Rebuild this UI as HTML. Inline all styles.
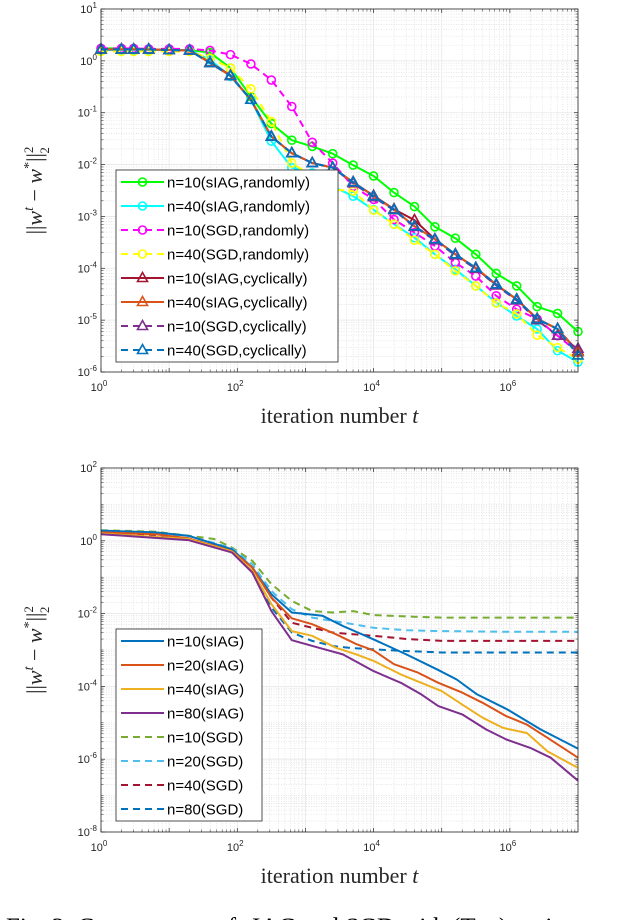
<!DOCTYPE html>
<html><head><meta charset="utf-8"><style>
html,body{margin:0;padding:0;background:#fff;width:618px;height:920px;overflow:hidden}
svg{display:block}
</style></head><body>
<svg id="fig" width="618" height="920" xmlns="http://www.w3.org/2000/svg">
<text x="6" y="935" font-family="Liberation Serif, serif" font-size="25" fill="#000">Fig. 2: Convergence of sIAG and SGD with (Top) various</text>
</svg>
<script>
// ---------- TOP CHART DATA (log10 t, log10 error) ----------
const topLogT = [0,0.3,0.48,0.7,1.0,1.3,1.6,1.9,2.2,2.5,2.8,3.1,3.4,3.7,4.0,4.3,4.6,4.9,5.2,5.5,5.8,6.1,6.4,6.7,7.0];
const topNames = ["n=10(sIAG,randomly)","n=40(sIAG,randomly)","n=10(SGD,randomly)","n=40(SGD,randomly)","n=10(sIAG,cyclically)","n=40(sIAG,cyclically)","n=10(SGD,cyclically)","n=40(SGD,cyclically)"];
const topS1 = [0.24,0.24,0.23,0.22,0.21,0.21,0.16,-0.14,-0.69,-1.21,-1.53,-1.65,-1.79,-2.01,-2.22,-2.54,-2.81,-3.2,-3.42,-3.73,-4.1,-4.34,-4.74,-4.87,-5.22];
const topS2 = [0.21,0.21,0.21,0.21,0.21,0.21,0.02,-0.3,-0.75,-1.55,-2.06,-2.16,-2.42,-2.61,-2.87,-3.15,-3.41,-3.73,-4.02,-4.34,-4.66,-4.92,-5.17,-5.59,-5.81];
const topS3 = [0.24,0.24,0.24,0.23,0.23,0.23,0.2,0.12,-0.06,-0.37,-0.88,-1.57,-1.97,-2.42,-2.67,-3.06,-3.31,-3.57,-3.89,-4.15,-4.53,-4.79,-4.98,-5.3,-5.62];
const topS4 = [0.18,0.18,0.18,0.18,0.18,0.18,0.05,-0.14,-0.54,-1.17,-1.97,-2.22,-2.48,-2.51,-2.88,-3.15,-3.46,-3.73,-4.05,-4.34,-4.67,-4.88,-5.29,-5.53,-5.75];
const topS5 = [0.22,0.22,0.22,0.22,0.21,0.2,-0.03,-0.28,-0.75,-1.46,-1.78,-1.97,-2.06,-2.34,-2.6,-2.86,-3.07,-3.44,-3.73,-4.0,-4.32,-4.6,-4.97,-5.17,-5.6];
const topS6 = [0.22,0.22,0.22,0.22,0.21,0.2,-0.04,-0.29,-0.75,-1.46,-1.78,-1.97,-2.06,-2.34,-2.61,-2.87,-3.19,-3.44,-3.73,-3.99,-4.31,-4.6,-4.98,-5.17,-5.62];
const topS7 = [0.22,0.22,0.22,0.22,0.21,0.2,-0.04,-0.29,-0.75,-1.46,-1.78,-1.97,-2.06,-2.36,-2.63,-2.88,-3.2,-3.46,-3.75,-4.01,-4.33,-4.62,-5.0,-5.3,-5.55];
const topS8 = [0.22,0.22,0.22,0.22,0.21,0.2,-0.04,-0.29,-0.75,-1.46,-1.78,-1.97,-2.06,-2.34,-2.61,-2.87,-3.19,-3.44,-3.73,-3.99,-4.31,-4.6,-4.98,-5.17,-5.68];
const topColors = ["#00ff00","#00ffff","#ff00ff","#ffff00","#a2142f","#d95319","#7e2f8e","#0072bd"];
const topDash = [false,false,true,true,false,false,true,true];
const topMarker = ["o","o","o","o","^","^","^","^"];

// ---------- BOTTOM CHART DATA ----------
const botNames = ["n=10(sIAG)","n=20(sIAG)","n=40(sIAG)","n=80(sIAG)","n=10(SGD)","n=20(SGD)","n=40(SGD)","n=80(SGD)"];
const b1x = [0,0.8,1.28,1.92,2.22,2.5,2.8,3.25,3.55,4.0,4.48,4.93,5.22,5.52,5.96,6.45,7.0];
const b1y = [0.28,0.23,0.14,-0.23,-0.73,-1.47,-1.97,-2.06,-2.34,-2.71,-3.12,-3.53,-3.81,-4.22,-4.63,-5.18,-5.71];
const b2x = [0,0.8,1.28,1.92,2.22,2.5,2.8,3.1,3.45,3.75,4.0,4.3,4.65,4.95,5.3,5.6,5.95,6.25,6.55,7.0];
const b2y = [0.23,0.18,0.07,-0.28,-0.73,-1.56,-2.13,-2.29,-2.57,-2.84,-3.01,-3.39,-3.62,-3.9,-4.17,-4.45,-4.82,-5.05,-5.41,-5.96];
const b3x = [0,1.28,1.92,2.22,2.5,2.8,3.1,3.45,3.75,4.0,4.4,4.7,5.0,5.3,5.6,5.9,6.25,6.55,7.0];
const b3y = [0.2,0.05,-0.29,-0.83,-1.74,-2.48,-2.61,-2.94,-3.12,-3.3,-3.67,-3.9,-4.13,-4.5,-4.86,-5.14,-5.28,-5.78,-6.24];
const b4x = [0,1.28,1.92,2.22,2.5,2.8,3.2,3.55,4.0,4.4,4.7,4.95,5.3,5.65,5.95,6.3,6.6,7.0];
const b4y = [0.18,0.02,-0.32,-0.87,-1.93,-2.73,-2.94,-3.12,-3.58,-3.9,-4.22,-4.54,-4.77,-5.18,-5.46,-5.69,-5.96,-6.59];
const b5x = [0,0.8,1.28,1.66,1.92,2.22,2.5,2.8,3.1,3.4,3.7,4.0,4.5,5.0,6.0,7.0];
const b5y = [0.29,0.25,0.14,0.05,-0.18,-0.55,-1.19,-1.65,-1.93,-1.97,-1.93,-2.04,-2.08,-2.11,-2.11,-2.11];
const bSx = [0,1.28,1.92,2.22,2.5,2.8,3.1,3.4,3.7,4.0,4.5,5.0,6.0,7.0];
const b6y = [0.28,0.14,-0.2,-0.64,-1.38,-1.88,-2.11,-2.2,-2.29,-2.39,-2.46,-2.48,-2.5,-2.5];
const b7y = [0.23,0.07,-0.28,-0.73,-1.56,-2.25,-2.39,-2.52,-2.57,-2.61,-2.7,-2.75,-2.75,-2.75];
const b8y = [0.2,0.05,-0.29,-0.83,-1.83,-2.52,-2.75,-2.89,-2.95,-2.98,-3.03,-3.07,-3.07,-3.07];
const botColors = ["#0072bd","#d95319","#edb120","#7e2f8e","#77ac30","#4dbeee","#a2142f","#0072bd"];
const botDash = [false,false,false,false,true,true,true,true];

const xTickLabels = ["0","2","4","6"];

const NS = "http://www.w3.org/2000/svg";
const svg = document.getElementById("fig");
function el(tag, attrs, parent){const e=document.createElementNS(NS,tag);for(const k in attrs)e.setAttribute(k,attrs[k]);(parent||svg).appendChild(e);return e;}

function makeChart(cfg){
  const g = el("g",{});
  
  
  const L=101,R=578,T=cfg.ytop,B=cfg.ybot;
  const xs = v => L + (v-0)/(7-0)*(R-L);
  const ys = v => T + (cfg.ymax-v)/(cfg.ymax-cfg.ymin)*(B-T);
  cfg.xs=xs; cfg.ys=ys;
  const step=cfg.ystep||1;
  for(let d=0; d<7; d++) for(let k=2;k<=9;k++){
    const x=xs(d+Math.log10(k));
    const ln=el("line",{x1:x,x2:x,y1:T,y2:B,stroke:"#d8d8d8","stroke-width":0.6,"stroke-dasharray":"1,1.5"},g);
    
    
  }
  for(let d=cfg.ymin; d<cfg.ymax; d++) for(let k=(step==1?2:1);k<=9;k++){
    if(k==1 && (d-cfg.ymin)%step==0) continue;
    const y=ys(d+Math.log10(k));
    const ln=el("line",{x1:L,x2:R,y1:y,y2:y,stroke:"#d8d8d8","stroke-width":0.6,"stroke-dasharray":"1,1.5"},g);
    
    
  }
  for(let d=0; d<=7; d++){
    const x=xs(d);
    const ln=el("line",{x1:x,x2:x,y1:T,y2:B,stroke:"#e6e6e6","stroke-width":0.8},g);
    
    
  }
  for(let d=cfg.ymin; d<=cfg.ymax; d+=step){
    const y=ys(d);
    const ln=el("line",{x1:L,x2:R,y1:y,y2:y,stroke:"#e6e6e6","stroke-width":0.8},g);
    
    
    const t=el("text",{x:L-4,y:y+4,"text-anchor":"end","font-family":"Liberation Sans, sans-serif","font-size":11,fill:"#262626"},g);
    
    
    t.innerHTML='10<tspan dy="-5" font-size="8">'+d+'</tspan>';
    for(const xx of [[L,L+4],[R-4,R]]){const tk=el("line",{x1:xx[0],x2:xx[1],y1:y,y2:y,stroke:"#262626","stroke-width":0.7},g);
      
      }
  }
  for(let d=cfg.ymin; d<cfg.ymax; d++) for(let k=1;k<=9;k++){
    if(k==1 && (d-cfg.ymin)%step==0) continue;
    const y=ys(d+Math.log10(k));
    for(const xx of [[L,L+2.5],[R-2.5,R]]){const tk=el("line",{x1:xx[0],x2:xx[1],y1:y,y2:y,stroke:"#262626","stroke-width":0.5},g);
      
      }
  }
  for(let d=0; d<7; d++) for(let k=1;k<=9;k++){
    const x=xs(d+Math.log10(k)); const len=k==1?4:2.5;
    for(const yy of [[B,B-len],[T,T+len]]){const tk=el("line",{x1:x,x2:x,y1:yy[0],y2:yy[1],stroke:"#262626","stroke-width":k==1?0.7:0.5},g);
      
      }
  }
  xTickLabels.forEach(lbl=>{
    const x=xs(+lbl);
    const t=el("text",{x:x-2,y:B+19,"text-anchor":"middle","font-family":"Liberation Sans, sans-serif","font-size":11,fill:"#262626"},g);
    
    
    t.innerHTML='10<tspan dy="-5" font-size="8">'+lbl+'</tspan>';
  });
  const xl=el("text",{x:(L+R)/2,y:B+51,"text-anchor":"middle","font-family":"Liberation Serif, serif","font-size":22,fill:"#262626"},g);
  
  
  xl.innerHTML='iteration number <tspan font-style="italic">t</tspan>';
  const cy=(T+B)/2;
  const yl=el("text",{x:0,y:0,transform:"translate(42,"+cy+") rotate(-90)","text-anchor":"middle","font-family":"Liberation Serif, serif","font-size":22,fill:"#262626"},g);
  
  
  yl.innerHTML='||<tspan font-style="italic">w</tspan><tspan dy="-9" font-size="14" font-style="italic">t</tspan><tspan dy="9"> − </tspan><tspan font-style="italic">w</tspan><tspan dy="-9" font-size="14">*</tspan><tspan dy="9">||</tspan><tspan dy="-9" font-size="13">2</tspan><tspan dx="-7" dy="16" font-size="13">2</tspan>';
  cfg.g=g; cfg.L=L;cfg.R=R;cfg.T=T;cfg.B=B;
  return cfg;
}

function drawMarker(g,type,x,y,color){
  let m;
  if(type=="o") m=el("circle",{cx:x,cy:y,r:4,fill:"none",stroke:color,"stroke-width":1.6},g);
  else m=el("polygon",{points:`${x},${y-5.5} ${x-5},${y+3.5} ${x+5},${y+3.5}`,fill:"none",stroke:color,"stroke-width":1.6},g);
  
  
}

function drawLine(c,xv,yv,color,dash,name){
  const d=xv.map((v,i)=>(i?"L":"M")+c.xs(v).toFixed(1)+","+c.ys(yv[i]).toFixed(1)).join(" ");
  const p=el("path",{d:d,fill:"none",stroke:color,"stroke-width":2,"stroke-dasharray":dash?"7,5":"none","stroke-linejoin":"round"},c.g);
  
  
}

function drawFrame(c){
  const r=el("rect",{x:c.L,y:c.T,width:c.R-c.L,height:c.B-c.T,fill:"none",stroke:"#262626","stroke-width":0.8},c.g);
  
  
}

function drawLegend(c,x,y,w,h,names,colors,dashes,markers){
  const lg=el("g",{},c.g);
  
  
  el("rect",{x:x,y:y,width:w,height:h,fill:"#fff",stroke:"#262626","stroke-width":0.8},lg);
  const step=h/names.length;
  names.forEach((n,i)=>{
    const e=el("g",{},lg);
    
    
    const yy=y+step*(i+0.5);
    el("line",{x1:x+5,x2:x+48,y1:yy,y2:yy,stroke:colors[i],"stroke-width":2,"stroke-dasharray":dashes[i]?"7,5":"none"},e);
    if(markers) drawMarker(e,markers[i],x+26.5,yy,colors[i]);
    const t=el("text",{x:x+51,y:yy+5.5,"font-family":"Liberation Sans, sans-serif","font-size":15,fill:"#000"},e);
    t.textContent=n;
  });
}

const topChart = makeChart({name:"top-chart",ytop:9,ybot:372,ymin:-6,ymax:1,ystep:1});
const topSeries=[topS1,topS2,topS3,topS4,topS5,topS6,topS7,topS8];
topSeries.forEach((s,i)=>{
  drawLine(topChart,topLogT,s,topColors[i],topDash[i],"series-line");
  topLogT.forEach((v,j)=>drawMarker(topChart.g,topMarker[i],topChart.xs(v),topChart.ys(s[j]),topColors[i]));
});
drawFrame(topChart);
drawLegend(topChart,116,170,222,192,topNames,topColors,topDash,topMarker);

const botChart = makeChart({name:"bottom-chart",ytop:468,ybot:832,ymin:-8,ymax:2,ystep:2});
const botX=[b1x,b2x,b3x,b4x,b5x,bSx,bSx,bSx];
const botY=[b1y,b2y,b3y,b4y,b5y,b6y,b7y,b8y];
[4,5,6,7,0,1,2,3].forEach(i=>drawLine(botChart,botX[i],botY[i],botColors[i],botDash[i],"series-line"));
drawFrame(botChart);
drawLegend(botChart,116,629,146,192,botNames,botColors,botDash,null);
</script>
</body></html>
